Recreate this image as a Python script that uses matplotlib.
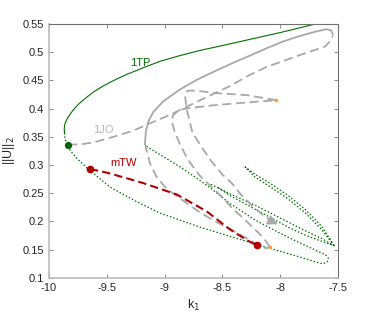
import matplotlib
matplotlib.use("Agg")
import matplotlib.pyplot as plt

plt.rcParams['font.family'] = ['Liberation Sans', 'DejaVu Sans']

# 1TP stable branch (green solid)
tp_x = [-9.866, -9.868, -9.864, -9.85, -9.835, -9.793, -9.75, -9.70, -9.62, -9.55, -9.47, -9.40, -9.326,
        -9.18, -9.04, -8.87, -8.70, -8.50, -8.26, -8.0, -7.70]
tp_y = [0.357, 0.365, 0.372, 0.379, 0.385, 0.397, 0.407, 0.416, 0.429, 0.438, 0.447, 0.454, 0.461,
        0.473, 0.484, 0.494, 0.503, 0.512, 0.523, 0.535, 0.550]

# 1TP unstable part: big loop from fold (green dotted)
loop_x = [-9.866, -9.862, -9.845, -9.833, -9.818, -9.75, -9.672, -9.473, -9.25, -9.041, -8.695, -8.41,
          -8.116, -7.831, -7.69, -7.632, -7.595, -7.585, -7.61, -7.788, -7.932, -8.076, -8.22, -8.436,
          -8.609, -8.724, -8.868, -9.012, -9.17]
loop_y = [0.357, 0.346, 0.339, 0.336, 0.326, 0.310, 0.295, 0.261, 0.236, 0.215, 0.190, 0.172,
          0.154, 0.137, 0.128, 0.125, 0.128, 0.135, 0.141, 0.158, 0.172, 0.187, 0.203, 0.232,
          0.260, 0.277, 0.297, 0.315, 0.335]

# second narrow loop in the middle bundle
mid_x = [-8.60, -8.436, -8.22, -8.076, -7.932, -7.788, -7.644, -7.535, -7.644, -7.788, -7.932, -8.22, -8.436, -8.55]
mid_y = [0.266, 0.249, 0.229, 0.214, 0.199, 0.184, 0.170, 0.157, 0.165, 0.176, 0.190, 0.222, 0.246, 0.262]

# upper right narrow loop
rl_x = [-8.306, -8.22, -8.076, -7.932, -7.788, -7.644, -7.53, -7.644, -7.788, -7.932, -8.076, -8.22, -8.306]
rl_y = [0.297, 0.284, 0.266, 0.246, 0.222, 0.192, 0.156, 0.186, 0.216, 0.240, 0.260, 0.279, 0.297]

# 1JO branch (gray): dashed from fold to top turn, solid back, then dashed
jo_d1_x = [-9.833, -9.72, -9.617, -9.444, -9.271, -9.127, -8.954, -8.825, -8.58, -8.436, -8.263, -8.119,
           -7.831, -7.615, -7.572, -7.546]
jo_d1_y = [0.336, 0.337, 0.340, 0.350, 0.361, 0.374, 0.389, 0.402, 0.426, 0.440, 0.460, 0.474,
           0.495, 0.510, 0.519, 0.529]
jo_s_x = [-7.546, -7.56, -7.60, -7.687, -7.831, -7.978, -8.119, -8.263, -8.40, -8.54, -8.724, -8.868,
          -9.012, -9.098, -9.14, -9.162, -9.17]
jo_s_y = [0.532, 0.539, 0.541, 0.537, 0.529, 0.519, 0.507, 0.494, 0.482, 0.469, 0.451, 0.434,
          0.413, 0.394, 0.378, 0.360, 0.338]
jo_d2_x = [-9.17, -9.156, -9.127, -9.07, -8.983, -8.868, -8.724, -8.58, -8.436, -8.29, -8.205, -8.12, -8.09]
jo_d2_y = [0.338, 0.326, 0.303, 0.279, 0.258, 0.241, 0.220, 0.202, 0.187, 0.170, 0.160, 0.152, 0.155]
jo_d3_x = [-8.09, -8.15, -8.24, -8.32, -8.41, -8.50, -8.60, -8.70, -8.80, -8.87, -8.915, -8.935, -8.93,
           -8.88, -8.825, -8.58, -8.29, -8.033]
jo_d3_y = [0.155, 0.172, 0.190, 0.206, 0.222, 0.243, 0.262, 0.282, 0.310, 0.338, 0.360, 0.375, 0.388,
           0.397, 0.400, 0.406, 0.411, 0.415]
jo_d4_x = [-8.033, -8.29, -8.58, -8.724, -8.80, -8.825, -8.81, -8.76, -8.69, -8.60, -8.50, -8.42, -8.35,
           -8.235, -8.148, -8.062]
jo_d4_y = [0.415, 0.424, 0.428, 0.432, 0.432, 0.425, 0.400, 0.358, 0.335, 0.308, 0.283, 0.268, 0.250,
           0.226, 0.211, 0.199]
arrow_end = (-8.00, 0.193)

# mTW branch (red dashed)
tw_x = [-9.646, -9.55, -9.473, -9.30, -9.185, -9.012, -8.897, -8.81, -8.637, -8.436, -8.29, -8.205]
tw_y = [0.293, 0.289, 0.285, 0.275, 0.268, 0.256, 0.248, 0.238, 0.218, 0.186, 0.167, 0.158]

green = '#007000'
gray = '#a8a8a8'
red = '#b00000'

fig = plt.figure(figsize=(3.74, 3.3), dpi=100)
ax = fig.add_axes([0.131, 0.158, 0.773, 0.769])

dot = dict(color=green, lw=0.9, dashes=(1.2, 1.6))
ax.plot(loop_x, loop_y, **dot)
ax.plot(mid_x, mid_y, **dot)
ax.plot(rl_x, rl_y, **dot)

gdash = dict(color=gray, lw=1.3, dashes=(5, 2.6))
ax.plot(jo_d1_x, jo_d1_y, **gdash)
ax.plot(jo_s_x, jo_s_y, color=gray, lw=1.3)
ax.plot(jo_d2_x, jo_d2_y, **gdash)
ax.plot(jo_d3_x, jo_d3_y, **gdash)
ax.plot(jo_d4_x, jo_d4_y, **gdash)
ax.annotate('', xy=arrow_end, xytext=(jo_d4_x[-1], jo_d4_y[-1]),
            arrowprops=dict(arrowstyle='-|>', color=gray, lw=1.3, mutation_scale=14))

ax.plot(tw_x, tw_y, color=red, lw=1.5, dashes=(4, 2))
ax.plot(tp_x, tp_y, color=green, lw=0.8)

ax.plot([-8.033, -8.09], [0.415, 0.155], 'o', color='#ff9933', ms=1.5, ls='none')
ax.plot([tw_x[0], tw_x[-1]], [tw_y[0], tw_y[-1]], 'o', color=red, ms=4.5, ls='none')
ax.plot([-9.833], [0.336], 'o', color='#006400', ms=4.2)

ax.text(-9.214, 0.481, '1TP', color=green, fontsize=8, ha='center', va='center')
ax.text(-9.531, 0.362, '1JO', color='#b8b8b8', fontsize=8, ha='center', va='center')
ax.text(-9.358, 0.303, 'mTW', color=red, fontsize=8, ha='center', va='center')

ax.set_xlim(-10, -7.5)
ax.set_ylim(0.1, 0.55)
xt = [-10, -9.5, -9, -8.5, -8, -7.5]
yt = [0.1, 0.15, 0.2, 0.25, 0.3, 0.35, 0.4, 0.45, 0.5, 0.55]
ax.set_xticks(xt)
ax.set_xticklabels(['-10', '-9.5', '-9', '-8.5', '-8', '-7.5'])
ax.set_yticks(yt)
ax.set_yticklabels(['0.1', '0.15', '0.2', '0.25', '0.3', '0.35', '0.4', '0.45', '0.5', '0.55'])
ax.tick_params(direction='in', top=True, right=True, length=3, width=0.6,
               labelsize=8, colors='#7a7a7a', labelcolor='#262626')
for s in ['left', 'bottom']:
    ax.spines[s].set_color('#bcbcbc')
    ax.spines[s].set_linewidth(1.2)
for s in ['top', 'right']:
    ax.spines[s].set_color('#707070')
    ax.spines[s].set_linewidth(0.8)

ax.set_xlabel('k$_1$', fontsize=9, color='#262626')
ax.set_ylabel('||U||$_2$', fontsize=9, color='#262626')

fig.savefig('out.png', dpi=100)
